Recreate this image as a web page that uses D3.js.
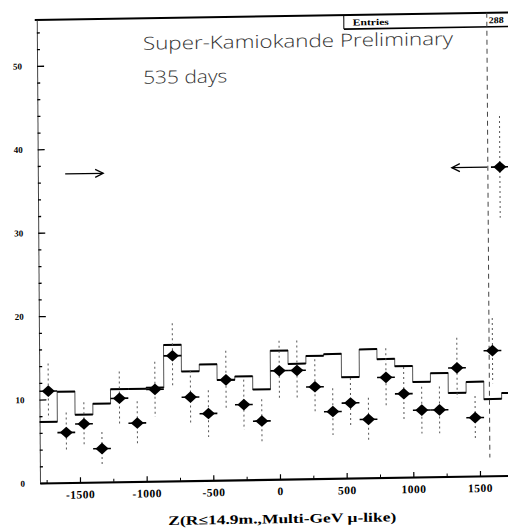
<!DOCTYPE html>
<html><head><meta charset="utf-8">
<script src="https://cdn.jsdelivr.net/npm/d3@7"></script>
<style>
html,body{margin:0;padding:0;background:#fff;overflow:hidden;width:508px;height:530px;}
svg{display:block;}
</style></head><body>
<script>
// ---- data ----
const binCenters = [-1733,-1600,-1467,-1333,-1200,-1067,-933,-800,-667,-533,-400,-267,-133,0,133,267,400,533,667,800,933,1067,1200,1333,1467,1600,1733];
const binWidth = 133.3;
const mcValues = [7.3,10.9,8.1,9.4,11.1,11.1,11.2,16.3,13.1,13.9,12.0,12.4,10.8,15.4,13.8,14.7,14.9,12.1,15.4,14.2,13.3,11.4,12.4,10.0,11.3,9.2,9.9];
const dataZ = [-1733,-1600,-1467,-1333,-1200,-1067,-933,-800,-667,-533,-400,-267,-133,0,133,267,400,533,667,800,933,1067,1200,1333,1467,1600,1665];
const dataCounts = [11,6,7,4,10,7,11,15,10,8,12,9,7,13,13,11,8,9,7,12,10,8,8,13,7,15,37];
const dataErrors = [3.3,2.4,2.6,2.0,3.2,2.6,3.3,3.9,3.2,2.8,3.5,3.0,2.6,3.6,3.6,3.3,2.8,3.0,2.6,3.5,3.2,2.8,2.8,3.6,2.6,3.9,6.1];
const xMajorTicks = [-1500,-1000,-500,0,500,1000,1500];
const xTickLabels = ["-1500","-1000","-500","0","500","1000","1500"];
const xMinorTicks = [-1750,-1250,-750,-250,250,750,1250,1750];
const yMajorTicks = [0,10,20,30,40,50];
const yTickLabels = ["0","10","20","30","40","50"];
const yMinorTicks = [2,4,6,8,12,14,16,18,22,24,26,28,32,34,36,38,42,44,46,48,52,54];
const boundaryZ = [1575];
const boundaryRange = [2.2, 55.5];
const arrowLevel = 37;
const arrowFrom = [-1595, 1570];
const arrowTo = [-1310, 1305];
const titleLines = ["Super-Kamiokande Preliminary", "535 days"];
const statsLabel = "Entries";
const statsValue = "288";
const xTitle = "Z(R\u226414.9m.,Multi-GeV \u03bc-like)";

// ---- drawing ----
const W = 540, H = 530;
const svg = d3.select("body").append("svg").attr("width", W).attr("height", H);
// the scanned original is slightly skewed
const g = svg.append("g")
  .attr("transform", "translate(40,483) matrix(1,-0.016,0.007,1,0,0) translate(-40,-483)");

const x = d3.scaleLinear().domain([-1800, 1800]).range([40, 520]);
const y = d3.scaleLinear().domain([0, 55.5]).range([483, 20]);

const serif = "'Liberation Serif','DejaVu Serif',serif";

// top frame
g.append("line").attr("x1", 38).attr("x2", 545).attr("y1", y(55.5)).attr("y2", y(55.5))
  .attr("stroke", "#000").attr("stroke-width", 2);

// stats box
g.append("line").attr("x1", 347).attr("x2", 545).attr("y1", 34).attr("y2", 34)
  .attr("stroke", "#000").attr("stroke-width", 1.6);
g.append("line").attr("x1", 347).attr("x2", 347).attr("y1", y(55.5)).attr("y2", 34)
  .attr("stroke", "#000").attr("stroke-width", 1);
g.append("text").attr("x", 356).attr("y", 30.5).text(statsLabel)
  .attr("font-family", serif).attr("font-weight", "bold").attr("font-size", 9)
  .attr("textLength", 36).attr("lengthAdjust", "spacingAndGlyphs");
g.append("text").attr("x", 492).attr("y", 30.5).text(statsValue)
  .attr("font-family", serif).attr("font-weight", "bold").attr("font-size", 9)
  .attr("textLength", 15).attr("lengthAdjust", "spacingAndGlyphs");

// x axis
const xAxis = d3.axisBottom(x).tickValues(xMajorTicks)
  .tickFormat((d, i) => xTickLabels[i]).tickSizeInner(-5).tickSizeOuter(0).tickPadding(8);
const gx = g.append("g").attr("transform", "translate(0,483)").call(xAxis);
gx.select(".domain").attr("stroke-width", 2.2);
gx.selectAll(".tick line").attr("stroke-width", 1.2);
gx.selectAll("text").attr("font-family", serif).attr("font-weight", "bold")
  .attr("font-size", 11.5).attr("letter-spacing", 0.5).attr("fill", "#000");
const xMinor = d3.axisBottom(x).tickValues(xMinorTicks).tickFormat("").tickSizeInner(-3).tickSizeOuter(0);
const gxm = g.append("g").attr("transform", "translate(0,483)").call(xMinor);
gxm.select(".domain").remove();

// y axis
const yAxis = d3.axisLeft(y).tickValues(yMajorTicks)
  .tickFormat((d, i) => yTickLabels[i]).tickSizeInner(-7).tickSizeOuter(0).tickPadding(15);
const gy = g.append("g").attr("transform", "translate(40,0)").call(yAxis);
gy.select(".domain").attr("stroke-width", 1).attr("stroke", "#444");
gy.selectAll(".tick line").attr("stroke-width", 1.3);
gy.selectAll("text").attr("font-family", serif).attr("font-weight", "bold")
  .attr("font-size", 9).attr("fill", "#000");
const yMinor = d3.axisLeft(y).tickValues(yMinorTicks).tickFormat("").tickSizeInner(-3).tickSizeOuter(0);
const gym = g.append("g").attr("transform", "translate(40,0)").call(yMinor);
gym.select(".domain").remove();
gym.selectAll(".tick line").attr("stroke-width", 1.3);

// MC histogram (step line)
const steps = mcValues.map((v, i) => [binCenters[i] - binWidth / 2, v]);
steps.push([binCenters[binCenters.length - 1] + binWidth / 2, mcValues[mcValues.length - 1]]);
g.append("path").datum(steps)
  .attr("d", d3.line().x(d => x(d[0])).y(d => y(d[1])).curve(d3.curveStepAfter))
  .attr("fill", "none").attr("stroke", "#555").attr("stroke-width", 1);
g.append("g").selectAll("line").data(mcValues).join("line")
  .attr("x1", (d, i) => x(binCenters[i] - binWidth / 2))
  .attr("x2", (d, i) => x(binCenters[i] + binWidth / 2))
  .attr("y1", d => y(d)).attr("y2", d => y(d))
  .attr("stroke", "#000").attr("stroke-width", 2);

// boundary marker line
g.append("g").selectAll("line").data(boundaryZ).join("line")
  .attr("x1", d => x(d)).attr("x2", d => x(d))
  .attr("y1", y(boundaryRange[1])).attr("y2", y(boundaryRange[0]))
  .attr("stroke", "#444").attr("stroke-width", 1).attr("stroke-dasharray", "5,4");

// arrows
const ga = g.append("g").attr("stroke", "#000").attr("stroke-width", 1.3).attr("fill", "none");
arrowFrom.forEach((f, i) => {
  const x0 = x(f), x1 = x(arrowTo[i]), yy = y(arrowLevel);
  const dir = Math.sign(x1 - x0);
  ga.append("line").attr("x1", x0).attr("x2", x1).attr("y1", yy).attr("y2", yy);
  ga.append("path").attr("d", `M${x1 - dir * 8},${yy - 4} L${x1},${yy} L${x1 - dir * 8},${yy + 4}`);
});

// data error bars
g.append("g").selectAll("line").data(dataCounts).join("line")
  .attr("x1", (d, i) => x(dataZ[i])).attr("x2", (d, i) => x(dataZ[i]))
  .attr("y1", (d, i) => y(d + dataErrors[i])).attr("y2", (d, i) => y(d - dataErrors[i]))
  .attr("stroke", "#555").attr("stroke-width", 1).attr("stroke-dasharray", "2,3");
// data x-bars
g.append("g").selectAll("line").data(dataCounts).join("line")
  .attr("x1", (d, i) => x(dataZ[i] - binWidth / 2)).attr("x2", (d, i) => x(dataZ[i] + binWidth / 2))
  .attr("y1", d => y(d)).attr("y2", d => y(d))
  .attr("stroke", "#000").attr("stroke-width", 1.6);
// diamonds
g.append("g").selectAll("path").data(dataCounts).join("path")
  .attr("transform", (d, i) => `translate(${x(dataZ[i])},${y(d)})`)
  .attr("d", "M0,-5.8 L6.5,0 L0,5.8 L-6.5,0 Z").attr("fill", "#000");

// annotation texts
const sans = "'Open Sans','DejaVu Sans',sans-serif";
g.append("text").attr("x", 146).attr("y", 51.5).text(titleLines[0])
  .attr("font-family", sans).attr("font-size", 18).attr("font-weight", 300).attr("fill", "#333")
  .attr("textLength", 310).attr("lengthAdjust", "spacingAndGlyphs");
g.append("text").attr("x", 146).attr("y", 85.5).text(titleLines[1])
  .attr("font-family", sans).attr("font-size", 18).attr("font-weight", 300).attr("fill", "#333")
  .attr("textLength", 84).attr("lengthAdjust", "spacingAndGlyphs");

// x title
g.append("text").attr("x", 282).attr("y", 527).attr("text-anchor", "middle").text(xTitle)
  .attr("font-family", serif).attr("font-weight", "bold").attr("font-size", 13)
  .attr("textLength", 228).attr("lengthAdjust", "spacingAndGlyphs");
</script>
</body></html>
